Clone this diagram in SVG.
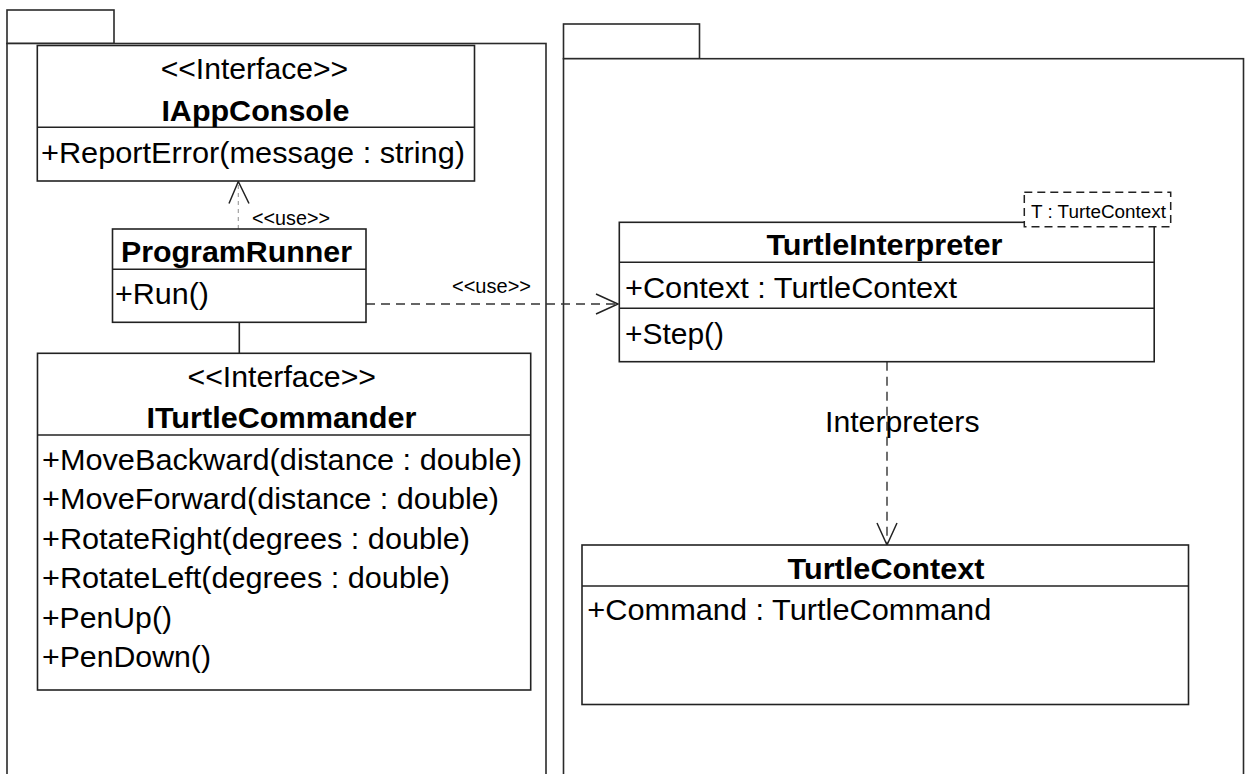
<svg xmlns="http://www.w3.org/2000/svg" width="1249" height="774" viewBox="0 0 1249 774">
  <style>
    .pkg { fill: #fff; stroke: #2a2a2a; stroke-width: 1.6; }
    .box { fill: #fff; stroke: #222; stroke-width: 1.6; }
    .sep { stroke: #222; stroke-width: 1.6; }
    .t { font-family: "Liberation Sans", Arial, sans-serif; font-size: 30px; fill: #000; }
    .b { font-weight: bold; }
    .sm { font-size: 20px; }
    .xs { font-size: 18px; }
    .dep { fill: none; stroke: #333; stroke-width: 1.4; stroke-dasharray: 9 6; }
    .dep-light { fill: none; stroke: #999; stroke-width: 1.1; stroke-dasharray: 4 4; }
    .assoc { fill: none; stroke: #222; stroke-width: 1.6; }
    .tmpl { fill: #fff; stroke: #222; stroke-width: 1.5; stroke-dasharray: 8 5; }
  </style>
  <defs>
    <marker id="open" markerUnits="userSpaceOnUse" markerWidth="26" markerHeight="24" refX="22" refY="10" orient="auto" viewBox="-2 -2 26 24">
      <path d="M0,0 L22,10 L0,20" fill="none" stroke="#222" stroke-width="1.5"/>
    </marker>
  </defs>

  <rect width="1249" height="774" fill="#fff"/>

  <!-- packages -->
  <g id="package-left">
    <rect class="pkg" x="7" y="10" width="107" height="33.5"/>
    <rect class="pkg" x="7" y="43.5" width="539" height="760"/>
  </g>
  <g id="package-right">
    <rect class="pkg" x="563.5" y="24" width="136" height="34.7"/>
    <rect class="pkg" x="563.5" y="58.7" width="680" height="745"/>
  </g>

  <!-- connectors -->
  <g id="connectors">
    <line class="dep-light" x1="238.3" y1="229" x2="238.3" y2="183"/>
    <path d="M229,203.5 L238.3,181.5 L249,203.5" fill="none" stroke="#222" stroke-width="1.5"/>
    <text class="t sm" x="252" y="225" textLength="78" lengthAdjust="spacingAndGlyphs">&lt;&lt;use&gt;&gt;</text>

    <line class="dep" x1="366" y1="304" x2="618" y2="304" marker-end="url(#open)"/>
    <text class="t sm" x="452" y="293" textLength="79" lengthAdjust="spacingAndGlyphs">&lt;&lt;use&gt;&gt;</text>

    <line class="assoc" x1="239.3" y1="322.3" x2="239.3" y2="353.3"/>

    <line class="dep" x1="887" y1="361.7" x2="887" y2="545" marker-end="url(#open)"/>
    <text class="t" x="825" y="431.7" textLength="154.5" lengthAdjust="spacingAndGlyphs">Interpreters</text>
  </g>

  <g id="IAppConsole">
    <rect class="box" x="37.3" y="45.5" width="437.2" height="135.5"/>
    <line class="sep" x1="37.3" y1="127.3" x2="474.5" y2="127.3"/>
    <text class="t" x="160.7" y="79" textLength="187.5" lengthAdjust="spacingAndGlyphs">&lt;&lt;Interface&gt;&gt;</text>
    <text class="t b" x="161.4" y="120.5" textLength="188" lengthAdjust="spacingAndGlyphs">IAppConsole</text>
    <text class="t" x="41" y="163" textLength="424" lengthAdjust="spacingAndGlyphs">+ReportError(message : string)</text>
  </g>

  <g id="ProgramRunner">
    <rect class="box" x="112.5" y="229" width="253.5" height="93.3"/>
    <line class="sep" x1="112.5" y1="269.3" x2="366" y2="269.3"/>
    <text class="t b" x="121" y="261.5" textLength="231" lengthAdjust="spacingAndGlyphs">ProgramRunner</text>
    <text class="t" x="115" y="304" textLength="94" lengthAdjust="spacingAndGlyphs">+Run()</text>
  </g>

  <g id="ITurtleCommander">
    <rect class="box" x="37.5" y="353.3" width="493.2" height="336.7"/>
    <line class="sep" x1="37.5" y1="435" x2="530.7" y2="435"/>
    <text class="t" x="187.5" y="386.7" textLength="188.5" lengthAdjust="spacingAndGlyphs">&lt;&lt;Interface&gt;&gt;</text>
    <text class="t b" x="146.4" y="428.3" textLength="270" lengthAdjust="spacingAndGlyphs">ITurtleCommander</text>
    <text class="t" x="42" y="469.5" textLength="480" lengthAdjust="spacingAndGlyphs">+MoveBackward(distance : double)</text>
    <text class="t" x="42" y="509" textLength="457" lengthAdjust="spacingAndGlyphs">+MoveForward(distance : double)</text>
    <text class="t" x="42" y="548.5" textLength="428" lengthAdjust="spacingAndGlyphs">+RotateRight(degrees : double)</text>
    <text class="t" x="42" y="588" textLength="408" lengthAdjust="spacingAndGlyphs">+RotateLeft(degrees : double)</text>
    <text class="t" x="42" y="627.5" textLength="130" lengthAdjust="spacingAndGlyphs">+PenUp()</text>
    <text class="t" x="42" y="667" textLength="169" lengthAdjust="spacingAndGlyphs">+PenDown()</text>
  </g>

  <g id="TurtleInterpreter">
    <rect class="box" x="619.3" y="222.3" width="534.9" height="139.4"/>
    <line class="sep" x1="619.3" y1="262.3" x2="1154.2" y2="262.3"/>
    <line class="sep" x1="619.3" y1="308.3" x2="1154.2" y2="308.3"/>
    <rect class="tmpl" x="1024.3" y="192.3" width="146.4" height="34.4"/>
    <text class="t xs" x="1031" y="217.5" textLength="135" lengthAdjust="spacingAndGlyphs">T : TurteContext</text>
    <text class="t b" x="766.4" y="255" textLength="236" lengthAdjust="spacingAndGlyphs">TurtleInterpreter</text>
    <text class="t" x="625" y="297.7" textLength="332" lengthAdjust="spacingAndGlyphs">+Context : TurtleContext</text>
    <text class="t" x="625" y="343.5" textLength="99" lengthAdjust="spacingAndGlyphs">+Step()</text>
  </g>

  <g id="TurtleContext">
    <rect class="box" x="582" y="545" width="606.5" height="159.5"/>
    <line class="sep" x1="582" y1="586" x2="1188.5" y2="586"/>
    <text class="t b" x="787.5" y="578.5" textLength="197" lengthAdjust="spacingAndGlyphs">TurtleContext</text>
    <text class="t" x="587.3" y="620" textLength="404" lengthAdjust="spacingAndGlyphs">+Command : TurtleCommand</text>
  </g>
</svg>
